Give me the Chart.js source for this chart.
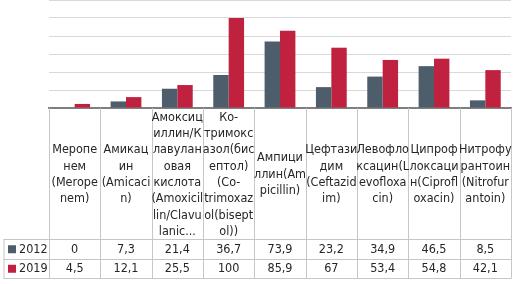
<!DOCTYPE html>
<html>
<head>
<meta charset="utf-8">
<script src="https://cdn.jsdelivr.net/npm/chart.js@4"></script>
<style>
  html, body { margin: 0; padding: 0; background: #fff; }
  #wrap { width: 515px; height: 284px; position: relative; }
</style>
</head>
<body>
<div id="wrap"><canvas id="chart"></canvas></div>
<script>
// Категории (подписи в ячейках таблицы, по строкам)
const categories = [
    ["Меропе", "нем", "(Merope", "nem)"],
    ["Амикац", "ин", "(Amicaci", "n)"],
    ["Амоксиц", "иллин/К", "лавулан", "овая", "кислота", "(Amoxicil", "lin/Clavu", "lanic..."],
    ["Ко-", "тримокс", "азол(бис", "ептол)", "(Co-", "trimoxaz", "ol(bisept", "ol))"],
    ["Ампици", "ллин(Am", "picillin)"],
    ["Цефтази", "дим", "(Ceftazid", "im)"],
    ["Левофло", "ксацин(L", "evofloxa", "cin)"],
    ["Ципроф", "локсаци", "н(Ciprofl", "oxacin)"],
    ["Нитрофу", "рантоин", "(Nitrofur", "antoin)"]
];
const seriesNames = ["2012", "2019"];
const values2012 = [0, 7.3, 21.4, 36.7, 73.9, 23.2, 34.9, 46.5, 8.5];
const values2019 = [4.5, 12.1, 25.5, 100, 85.9, 67, 53.4, 54.8, 42.1];
const yTicks = [0, 20, 40, 60, 80, 100, 120];

const colors = ['#4e5d6c', '#c0213f'];
const FONT = '12.5px "Liberation Sans Narrow", "DejaVu Sans Condensed", sans-serif';

// Таблица данных под графиком
const dataTable = {
    id: 'dataTable',
    afterDraw(chart) {
        const ctx = chart.ctx;
        const x = chart.scales.x;
        const area = chart.chartArea;
        const n = categories.length;
        const half = (x.getPixelForTick(1) - x.getPixelForTick(0)) / 2;
        const left = x.getPixelForTick(0) - half;
        const right = x.getPixelForTick(n - 1) + half;
        const yAxis = area.bottom;
        const row1 = 239, row2 = 258.5, row3 = 278;
        const tableLeft = 3.5;

        ctx.save();
        ctx.strokeStyle = '#c6c6c6';
        ctx.lineWidth = 1;
        ctx.beginPath();
        // горизонтальные линии
        [row1, row2, row3].forEach(y => {
            ctx.moveTo(tableLeft, Math.round(y) + 0.5);
            ctx.lineTo(right, Math.round(y) + 0.5);
        });
        // вертикальные линии
        ctx.moveTo(tableLeft + 0.5, row1);
        ctx.lineTo(tableLeft + 0.5, row3 + 0.5);
        for (let i = 0; i <= n; i++) {
            const px = Math.round(left + i * half * 2) + 0.5;
            ctx.moveTo(px, yAxis);
            ctx.lineTo(px, row3 + 0.5);
        }
        ctx.stroke();

        ctx.fillStyle = '#262626';
        ctx.font = FONT;
        ctx.textAlign = 'center';
        ctx.textBaseline = 'middle';
        const lh = 16.3;
        const midCat = (yAxis + row1) / 2 + 1;
        categories.forEach((lines, i) => {
            const cx = x.getPixelForTick(i);
            const y0 = midCat - (lines.length - 1) * lh / 2;
            lines.forEach((t, k) => ctx.fillText(t, cx, y0 + k * lh));
        });

        const rows = [values2012, values2019];
        const rowMid = [(row1 + row2) / 2 + 0.5, (row2 + row3) / 2 + 0.5];
        rows.forEach((vals, r) => {
            vals.forEach((v, i) => {
                ctx.fillText(String(v).replace('.', ','), x.getPixelForTick(i), rowMid[r]);
            });
            ctx.fillStyle = colors[r];
            ctx.fillRect(8, rowMid[r] - 4, 8, 8);
            ctx.fillStyle = '#262626';
            ctx.textAlign = 'left';
            ctx.fillText(seriesNames[r], 19, rowMid[r]);
            ctx.textAlign = 'center';
        });
        ctx.restore();
    }
};

new Chart(document.getElementById('chart'), {
    type: 'bar',
    data: {
        labels: categories,
        datasets: [
            { label: seriesNames[0], data: values2012, backgroundColor: colors[0] },
            { label: seriesNames[1], data: values2019, backgroundColor: colors[1] }
        ]
    },
    options: {
        responsive: true,
        maintainAspectRatio: false,
        animation: false,
        layout: { padding: { top: 0, right: 4, left: 0, bottom: 0 } },
        datasets: { bar: { categoryPercentage: 0.6, barPercentage: 1 } },
        scales: {
            x: {
                grid: { display: false },
                ticks: { display: false },
                border: { color: '#7f7f7f', width: 2 },
                afterFit(scale) { scale.height = 176; }
            },
            y: {
                min: yTicks[0],
                max: yTicks[yTicks.length - 1],
                afterBuildTicks(scale) { scale.ticks = yTicks.map(v => ({ value: v })); },
                ticks: { display: false },
                grid: { color: '#d9d9d9', drawTicks: false },
                border: { display: false },
                afterFit(scale) { scale.width = 49; }
            }
        },
        plugins: {
            legend: { display: false },
            tooltip: { enabled: false }
        }
    },
    plugins: [dataTable]
});
</script>
</body>
</html>
